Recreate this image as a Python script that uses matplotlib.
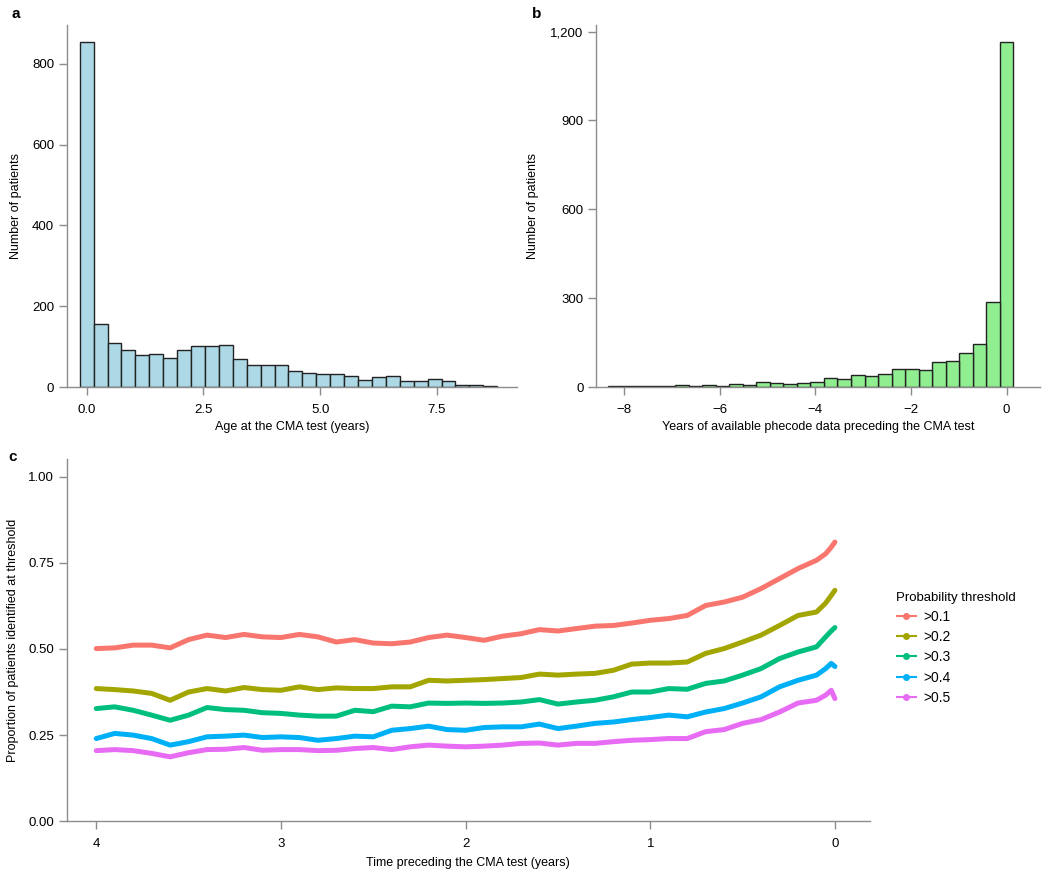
import matplotlib
matplotlib.use('Agg')
import matplotlib.pyplot as plt
from matplotlib.lines import Line2D
from matplotlib.ticker import FuncFormatter
import numpy as np

plt.rcParams['font.family'] = ['Liberation Sans', 'DejaVu Sans']
plt.rcParams['font.size'] = 9
plt.rcParams['axes.unicode_minus'] = True

# panel a: age at CMA test histogram (30 bins)
age_bin_width = 0.298
age_counts = [853, 157, 110, 92, 80, 82, 73, 91, 101, 102, 104, 70, 54, 54, 54,
              39, 35, 33, 31, 28, 17, 25, 26, 16, 14, 20, 16, 6, 4, 2]

# panel b: years of phecode data before the test (30 bins, rightmost at 0)
yrs_bin_width = 0.283
yrs_counts = [1163, 286, 145, 115, 88, 86, 56, 60, 60, 44, 38, 39, 27, 32, 18,
              14, 10, 13, 16, 7, 11, 4, 8, 3, 8, 3, 2, 2, 2, 2]  # from 0 going left

# panel c: proportion identified vs time preceding test
time_years = [4.0, 3.9, 3.8, 3.7, 3.6, 3.5, 3.4, 3.3, 3.2, 3.1, 3.0, 2.9, 2.8, 2.7,
              2.6, 2.5, 2.4, 2.3, 2.2, 2.1, 2.0, 1.9, 1.8, 1.7, 1.6, 1.5, 1.4, 1.3,
              1.2, 1.1, 1.0, 0.9, 0.8, 0.7, 0.6, 0.5, 0.4, 0.3, 0.2, 0.1, 0.05, 0.02, 0.0]
prop_01 = [0.501, 0.503, 0.511, 0.511, 0.503, 0.527, 0.540, 0.533, 0.542, 0.535, 0.533, 0.542, 0.535, 0.520,
           0.527, 0.517, 0.515, 0.520, 0.533, 0.540, 0.533, 0.525, 0.537, 0.544, 0.556, 0.552, 0.559, 0.566,
           0.568, 0.575, 0.583, 0.588, 0.597, 0.626, 0.636, 0.650, 0.675, 0.704, 0.733, 0.757, 0.776, 0.795, 0.810]
prop_02 = [0.385, 0.382, 0.378, 0.371, 0.351, 0.375, 0.385, 0.378, 0.388, 0.382, 0.380, 0.390, 0.382, 0.387,
           0.385, 0.385, 0.390, 0.390, 0.409, 0.407, 0.409, 0.411, 0.414, 0.417, 0.427, 0.424, 0.427, 0.429,
           0.438, 0.456, 0.459, 0.459, 0.462, 0.487, 0.501, 0.520, 0.540, 0.568, 0.597, 0.607, 0.633, 0.655, 0.670]
prop_03 = [0.327, 0.332, 0.322, 0.308, 0.293, 0.308, 0.330, 0.324, 0.322, 0.315, 0.313, 0.308, 0.305, 0.305,
           0.322, 0.318, 0.334, 0.332, 0.343, 0.342, 0.343, 0.342, 0.343, 0.346, 0.353, 0.340, 0.346, 0.351,
           0.361, 0.375, 0.375, 0.385, 0.383, 0.400, 0.407, 0.424, 0.443, 0.472, 0.491, 0.506, 0.535, 0.552, 0.562]
prop_04 = [0.240, 0.255, 0.250, 0.240, 0.221, 0.231, 0.245, 0.247, 0.250, 0.243, 0.245, 0.243, 0.235, 0.240,
           0.247, 0.245, 0.264, 0.269, 0.276, 0.266, 0.264, 0.272, 0.274, 0.274, 0.282, 0.269, 0.276, 0.284,
           0.288, 0.295, 0.301, 0.308, 0.303, 0.317, 0.327, 0.343, 0.361, 0.390, 0.409, 0.424, 0.443, 0.458, 0.449]
prop_05 = [0.205, 0.208, 0.205, 0.197, 0.187, 0.199, 0.208, 0.209, 0.214, 0.206, 0.208, 0.208, 0.205, 0.206,
           0.211, 0.214, 0.208, 0.216, 0.221, 0.218, 0.216, 0.218, 0.221, 0.226, 0.227, 0.221, 0.226, 0.226,
           0.231, 0.235, 0.237, 0.240, 0.240, 0.260, 0.266, 0.284, 0.295, 0.317, 0.343, 0.351, 0.366, 0.380, 0.356]
thresh_labels = ['>0.1', '>0.2', '>0.3', '>0.4', '>0.5']
thresh_colors = ['#F8766D', '#A3A500', '#00BF7D', '#00B0F6', '#E76BF3']

AX_GREY = '#8c8c8c'


def style_axes(ax):
    for s in ['top', 'right']:
        ax.spines[s].set_visible(False)
    for s in ['left', 'bottom']:
        ax.spines[s].set_color(AX_GREY)
        ax.spines[s].set_linewidth(1.0)
    ax.tick_params(axis='both', colors=AX_GREY, labelcolor='black', length=6,
                   width=1.0, labelsize=9.5, pad=3)
    ax.tick_params(axis='x', pad=6)


W, H = 1050, 877
fig = plt.figure(figsize=(W / 100, H / 100), dpi=100)

def px_axes(x0, y0, x1, y1):
    return fig.add_axes([x0 / W, 1 - y1 / H, (x1 - x0) / W, (y1 - y0) / H])

# ---- panel a
ax1 = px_axes(66.7, 25, 516.7, 387)
age_centers = np.arange(len(age_counts)) * age_bin_width
ax1.bar(age_centers, age_counts, width=age_bin_width, color='#ADD8E6',
        edgecolor='#222222', linewidth=1.0)
ax1.set_xlim(-0.428, 9.208)
ax1.set_ylim(0, 896)
ax1.set_xticks([0, 2.5, 5.0, 7.5])
ax1.xaxis.set_major_formatter(FuncFormatter(lambda v, p: '%.1f' % v))
ax1.set_yticks([0, 200, 400, 600, 800])
ax1.set_xlabel('Age at the CMA test (years)', labelpad=4)
ax1.set_ylabel('Number of patients', labelpad=7)
style_axes(ax1)

# ---- panel b
ax2 = px_axes(596, 25, 1040, 387)
yrs_centers = -np.arange(len(yrs_counts)) * yrs_bin_width
ax2.bar(yrs_centers, yrs_counts, width=yrs_bin_width, color='#90EE90',
        edgecolor='#222222', linewidth=1.0)
ax2.set_xlim(-8.59, 0.70)
ax2.set_ylim(0, 1222)
ax2.set_xticks([-8, -6, -4, -2, 0])
ax2.xaxis.set_major_formatter(FuncFormatter(lambda v, p: ('%d' % v).replace('-', '\u2212')))
ax2.set_yticks([0, 300, 600, 900, 1200])
ax2.yaxis.set_major_formatter(FuncFormatter(lambda v, p: '{:,.0f}'.format(v)))
ax2.set_xlabel('Years of available phecode data preceding the CMA test', labelpad=4)
ax2.set_ylabel('Number of patients', labelpad=8)
style_axes(ax2)

# ---- panel c
ax3 = px_axes(66.7, 459.3, 870, 821.3)
series = [prop_01, prop_02, prop_03, prop_04, prop_05]
for vals, col in zip(series, thresh_colors):
    ax3.plot(time_years, vals, color=col, lw=3.6, solid_capstyle='round',
             solid_joinstyle='round')
ax3.set_xlim(4.16, -0.19)
ax3.set_ylim(0, 1.05)
ax3.set_xticks([4, 3, 2, 1, 0])
ax3.set_yticks([0, 0.25, 0.5, 0.75, 1.0])
ax3.yaxis.set_major_formatter(FuncFormatter(lambda v, p: '%.2f' % v))
ax3.set_xlabel('Time preceding the CMA test (years)', labelpad=5)
ax3.set_ylabel('Proportion of patients identified at threshold', labelpad=7)
style_axes(ax3)

handles = [Line2D([0], [0], color=c, lw=1.5, marker='o', markersize=4) for c in thresh_colors]
fig.legend(handles, thresh_labels, title='Probability threshold', loc='upper left',
           bbox_to_anchor=(884 / W, 1 - 579 / H), frameon=False, fontsize=10,
           title_fontsize=9.5, handlelength=1.4, handletextpad=0.5, labelspacing=0.45,
           alignment='left')

# panel letters
fig.text(12 / W, 1 - 14 / H, 'a', fontsize=11, fontweight='bold', va='center')
fig.text(532 / W, 1 - 14 / H, 'b', fontsize=11, fontweight='bold', va='center')
fig.text(8 / W, 1 - 457 / H, 'c', fontsize=11, fontweight='bold', va='center')

fig.savefig('out.png', dpi=100)
